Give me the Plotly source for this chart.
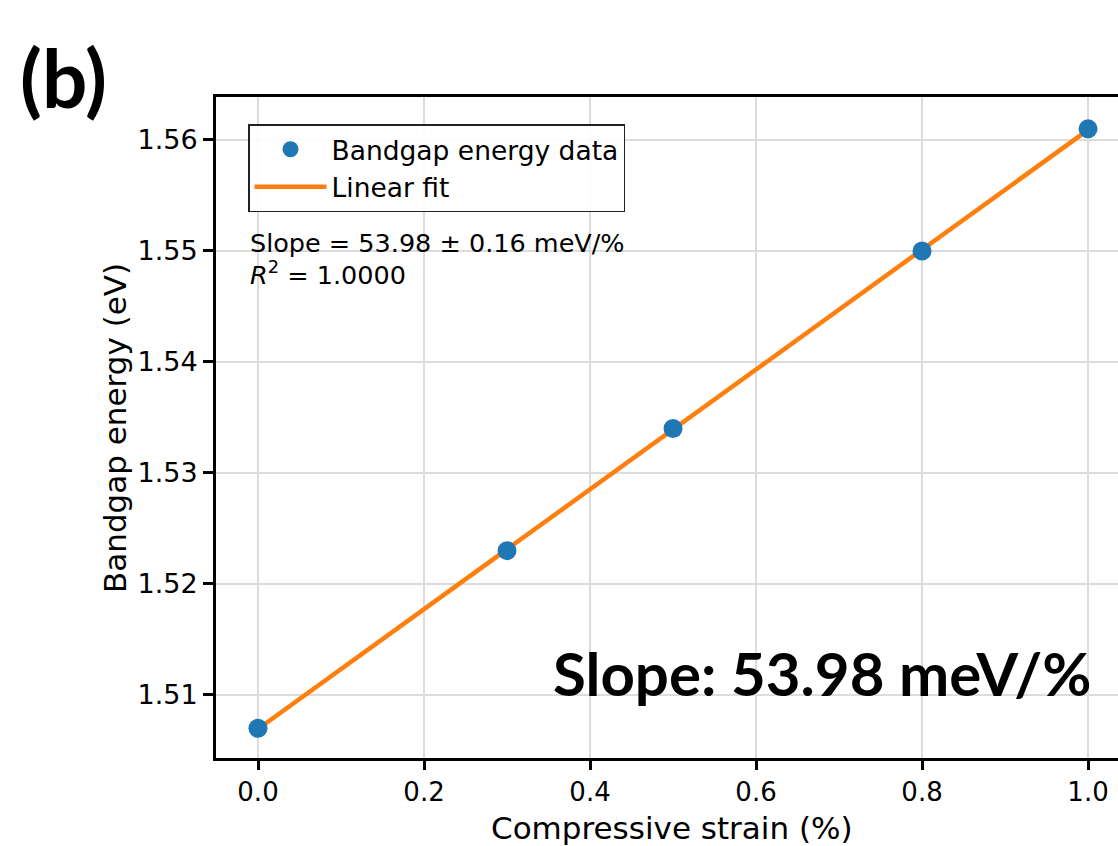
import numpy as np
import plotly.graph_objects as go

# Data
strain = [0.0, 0.3, 0.5, 0.8, 1.0]
bandgap = [1.507, 1.523, 1.534, 1.550, 1.561]
x_ticks = [0.0, 0.2, 0.4, 0.6, 0.8, 1.0]
y_ticks = [1.51, 1.52, 1.53, 1.54, 1.55, 1.56]

slope, intercept = np.polyfit(strain, bandgap, 1)
fit_x = np.array([min(strain), max(strain)])
fit_y = slope * fit_x + intercept

W, H = 1118, 846
L, R, T, B = 216, 0, 97, 88
PW, PH = W - L - R, H - T - B


def px(xp):
    return (xp - L) / PW


def py(yp):
    return (H - B - yp) / PH


fig = go.Figure()
fig.add_trace(go.Scatter(
    x=fit_x, y=fit_y, mode="lines", name="Linear fit",
    line=dict(color="#ff7f0e", width=4.5),
))
fig.add_trace(go.Scatter(
    x=strain, y=bandgap, mode="markers", name="Bandgap energy data",
    marker=dict(color="#1f77b4", size=19, line=dict(width=0)),
))

font_main = "DejaVu Sans, Verdana, sans-serif"

fig.update_layout(
    width=W, height=H,
    margin=dict(l=L, r=R, t=T, b=B, pad=0),
    paper_bgcolor="white", plot_bgcolor="white",
    font=dict(family=font_main, color="black", size=26),
    showlegend=True,
    legend=dict(
        x=px(248), y=py(124),
        xanchor="left", yanchor="top",
        bgcolor="rgba(255,255,255,0.9)", bordercolor="#222222", borderwidth=1.5,
        font=dict(family=font_main, size=26.5, color="black"),
        traceorder="reversed", itemwidth=72, tracegroupgap=0,
    ),
    xaxis=dict(
        range=[-0.0506, 1.0361], tickvals=x_ticks,
        ticktext=[f"{v:.1f}" for v in x_ticks],
        showline=True, linecolor="black", linewidth=3, mirror=True,
        ticks="outside", ticklen=9, tickwidth=2.5, tickcolor="black",
        showgrid=True, gridcolor="#dcdcdc", gridwidth=2,
        zeroline=False, tickfont=dict(size=26, family=font_main),
    ),
    yaxis=dict(
        range=[1.50432, 1.56387], tickvals=y_ticks,
        ticktext=[f"{v:.2f}" for v in y_ticks],
        showline=True, linecolor="black", linewidth=3, mirror=False,
        ticks="outside", ticklen=10, tickwidth=2.5, tickcolor="black",
        showgrid=True, gridcolor="#dcdcdc", gridwidth=2,
        zeroline=False, tickfont=dict(size=27, family=font_main),
    ),
)

annotations = [
    dict(text="Compressive strain (%)", xref="paper", yref="paper",
         x=px(672), y=py(828),
         xanchor="center", yanchor="middle", showarrow=False,
         font=dict(size=31, family=font_main)),
    dict(text="Bandgap energy (eV)", xref="paper", yref="paper",
         x=px(115), y=py(428),
         xanchor="center", yanchor="middle", showarrow=False, textangle=-90,
         font=dict(size=31, family=font_main)),
    dict(text=f"Slope = {slope*1000:.2f} ± 0.16 meV/%",
         xref="paper", yref="paper", x=px(248), y=py(243),
         xanchor="left", yanchor="middle", align="left", showarrow=False,
         font=dict(size=25.5, family=font_main)),
    dict(text="<i>R</i><sup>2</sup> = 1.0000",
         xref="paper", yref="paper", x=px(248), y=py(273),
         xanchor="left", yanchor="middle", align="left", showarrow=False,
         font=dict(size=25.5, family=font_main)),
    dict(text=f"<b>Slope: {slope*1000:.2f} meV/%</b>", xref="paper", yref="paper",
         x=px(1093), y=py(673),
         xanchor="right", yanchor="middle", showarrow=False,
         font=dict(size=60, family="Lato, Open Sans, sans-serif", color="black")),
    dict(text="<b>(b)</b>", xref="paper", yref="paper",
         x=px(18), y=py(77),
         xanchor="left", yanchor="middle", showarrow=False,
         font=dict(size=80, family="Lato, Open Sans, sans-serif", color="black")),
]
fig.update_layout(annotations=annotations)

fig.write_html(
    "out.html",
    config={"displayModeBar": False},
    post_script="document.body.style.margin='0';document.body.style.overflow='hidden';",
)
